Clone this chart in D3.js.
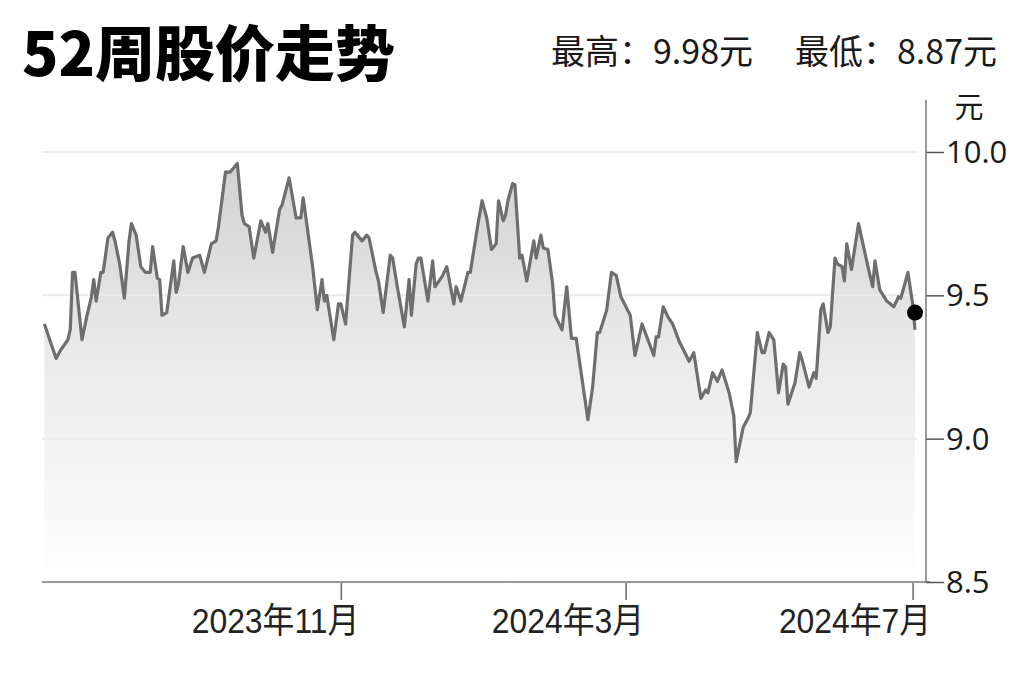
<!DOCTYPE html>
<html>
<head>
<meta charset="utf-8">
<script src="https://cdn.jsdelivr.net/npm/d3@7"></script>
<style>
  html, body { margin: 0; padding: 0; background: #ffffff; }
  svg { display: block; }
</style>
</head>
<body>
<svg id="chart" width="1024" height="682"></svg>
<script>
// ---- data ----
const titleText = "52周股价走势";
const highText = "最高：9.98元";
const lowText = "最低：8.87元";
const unitText = "元";
const lastClose = 9.44;

const dates = ["2023-06-28","2023-07-03","2023-07-05","2023-07-08","2023-07-09","2023-07-10","2023-07-11","2023-07-14","2023-07-16","2023-07-18","2023-07-19","2023-07-20","2023-07-22","2023-07-23","2023-07-25","2023-07-27","2023-07-28","2023-07-30","2023-08-01","2023-08-03","2023-08-04","2023-08-06","2023-08-08","2023-08-10","2023-08-12","2023-08-13","2023-08-15","2023-08-16","2023-08-17","2023-08-19","2023-08-22","2023-08-23","2023-08-24","2023-08-26","2023-08-28","2023-08-30","2023-09-02","2023-09-04","2023-09-07","2023-09-09","2023-09-10","2023-09-13","2023-09-15","2023-09-18","2023-09-20","2023-09-21","2023-09-23","2023-09-25","2023-09-28","2023-09-30","2023-10-01","2023-10-03","2023-10-06","2023-10-07","2023-10-10","2023-10-13","2023-10-15","2023-10-16","2023-10-18","2023-10-20","2023-10-22","2023-10-24","2023-10-25","2023-10-26","2023-10-29","2023-10-31","2023-11-01","2023-11-03","2023-11-06","2023-11-07","2023-11-10","2023-11-12","2023-11-13","2023-11-16","2023-11-17","2023-11-19","2023-11-22","2023-11-23","2023-11-25","2023-11-28","2023-11-30","2023-12-01","2023-12-03","2023-12-04","2023-12-05","2023-12-08","2023-12-10","2023-12-11","2023-12-14","2023-12-16","2023-12-19","2023-12-20","2023-12-22","2023-12-25","2023-12-26","2023-12-29","2023-12-31","2024-01-02","2024-01-04","2024-01-06","2024-01-07","2024-01-09","2024-01-10","2024-01-11","2024-01-13","2024-01-14","2024-01-16","2024-01-17","2024-01-19","2024-01-22","2024-01-23","2024-01-25","2024-01-26","2024-01-28","2024-01-30","2024-01-31","2024-02-03","2024-02-05","2024-02-07","2024-02-09","2024-02-14","2024-02-16","2024-02-18","2024-02-19","2024-02-22","2024-02-24","2024-02-26","2024-02-28","2024-03-03","2024-03-05","2024-03-08","2024-03-13","2024-03-14","2024-03-15","2024-03-17","2024-03-19","2024-03-21","2024-03-24","2024-03-25","2024-03-28","2024-03-30","2024-04-02","2024-04-04","2024-04-05","2024-04-07","2024-04-09","2024-04-11","2024-04-14","2024-04-16","2024-04-17","2024-04-20","2024-04-22","2024-04-23","2024-04-26","2024-04-28","2024-04-29","2024-05-01","2024-05-03","2024-05-05","2024-05-07","2024-05-08","2024-05-09","2024-05-12","2024-05-14","2024-05-15","2024-05-18","2024-05-20","2024-05-21","2024-05-23","2024-05-24","2024-05-26","2024-05-27","2024-05-29","2024-05-30","2024-06-01","2024-06-02","2024-06-03","2024-06-05","2024-06-08","2024-06-12","2024-06-14","2024-06-15","2024-06-17","2024-06-20","2024-06-23","2024-06-25","2024-06-26","2024-06-29","2024-07-01","2024-07-02"];

const prices = [9.40,9.28,9.31,9.345,9.38,9.58,9.58,9.345,9.425,9.495,9.555,9.48,9.58,9.58,9.70,9.72,9.69,9.61,9.49,9.69,9.75,9.71,9.60,9.58,9.58,9.67,
9.56,9.555,9.43,9.44,9.62,9.51,9.54,9.67,9.58,9.63,9.64,9.58,9.68,9.69,9.74,9.93,9.93,9.96,9.78,9.75,9.74,9.63,9.76,9.72,9.75,9.65,
9.80,9.815,9.91,9.77,9.77,9.84,9.72,9.60,9.45,9.555,9.48,9.50,9.345,9.47,9.47,9.40,9.71,9.72,9.69,9.71,9.70,9.58,9.55,9.44,9.64,9.63,
9.53,9.39,9.555,9.43,9.61,9.63,9.63,9.48,9.62,9.53,9.565,9.60,9.47,9.53,9.48,9.58,9.58,9.735,9.83,9.77,9.66,9.68,9.83,9.76,9.78,9.83,
9.89,9.885,9.63,9.64,9.55,9.69,9.63,9.71,9.665,9.66,9.54,9.43,9.38,9.53,9.35,9.35,9.066,9.18,9.37,9.37,9.45,9.58,9.57,9.495,9.43,9.29,
9.40,9.29,9.355,9.355,9.46,9.425,9.40,9.335,9.32,9.27,9.30,9.14,9.17,9.16,9.23,9.20,9.24,9.16,9.08,8.92,9.04,9.07,9.09,9.37,9.30,9.30,
9.37,9.345,9.16,9.26,9.25,9.12,9.195,9.30,9.275,9.18,9.23,9.21,9.45,9.47,9.37,9.39,9.63,9.61,9.60,9.55,9.68,9.59,9.75,9.60,9.53,9.62,
9.52,9.48,9.46,9.495,9.49,9.58,9.47,9.38];

const xDomain = ["2023-06-27", "2024-07-02"];
const xTickDates = ["2023-11-01", "2024-03-01", "2024-07-01"];
const yDomain = [8.5, 10.0];
const yTickValues = [8.5, 9.0, 9.5, 10.0];
const gridValues = [9.0, 9.5, 10.0];

// ---- drawing ----
const parse = d3.timeParse("%Y-%m-%d");
const n = Math.min(dates.length, prices.length);
const data = d3.range(n).map(i => ({ date: parse(dates[i]), v: prices[i] }));

const svg = d3.select("#chart");
const plotLeft = 42, plotRight = 915, axisX = 926;
const plotTop = 152, plotBottom = 582;

const x = d3.scaleTime().domain(xDomain.map(parse)).range([plotLeft, plotRight]);
const y = d3.scaleLinear().domain(yDomain).range([plotBottom, plotTop]);

const defs = svg.append("defs");
const grad = defs.append("linearGradient")
  .attr("id", "areaGrad")
  .attr("gradientUnits", "userSpaceOnUse")
  .attr("x1", 0).attr("x2", 0)
  .attr("y1", y(10.0)).attr("y2", y(8.5));
grad.append("stop").attr("offset", "0%").attr("stop-color", "#d0d0d0");
grad.append("stop").attr("offset", "45%").attr("stop-color", "#e9e9e9");
grad.append("stop").attr("offset", "100%").attr("stop-color", "#ffffff");

// area
svg.append("path")
  .datum(data)
  .attr("fill", "url(#areaGrad)")
  .attr("d", d3.area()
    .x(d => x(d.date))
    .y0(y(yDomain[0]))
    .y1(d => y(d.v)));

// gridlines
svg.append("g").selectAll("line")
  .data(gridValues)
  .join("line")
  .attr("x1", plotLeft).attr("x2", plotRight + 2)
  .attr("y1", d => y(d)).attr("y2", d => y(d))
  .attr("stroke", "#ebebeb")
  .attr("stroke-width", 2);

// line
svg.append("path")
  .datum(data)
  .attr("fill", "none")
  .attr("stroke", "#6e6e6e")
  .attr("stroke-width", 3.2)
  .attr("stroke-linejoin", "round")
  .attr("d", d3.line().x(d => x(d.date)).y(d => y(d.v)));

// last close dot
svg.append("circle")
  .attr("cx", x(data[n - 1].date))
  .attr("cy", y(lastClose))
  .attr("r", 8)
  .attr("fill", "#000");

// x axis
const xAxis = svg.append("g")
  .attr("transform", `translate(0,${plotBottom})`)
  .call(d3.axisBottom(x)
    .tickValues(xTickDates.map(parse))
    .tickFormat(d3.timeFormat("%Y年%-m月"))
    .tickSize(18)
    .tickSizeOuter(0));
xAxis.select(".domain").remove();
xAxis.selectAll(".tick line").attr("stroke", "#666").attr("stroke-width", 1.5);
xAxis.selectAll(".tick text")
  .attr("fill", "#222")
  .attr("font-family", "'Liberation Sans', 'Noto Sans CJK SC', sans-serif")
  .attr("font-size", 35)
  .attr("text-anchor", "end")
  .attr("dx", 18)
  .attr("y", 26)
  .attr("dy", "0.71em")
  .each(function () {
    const w = this.getComputedTextLength();
    d3.select(this).attr("textLength", w * 0.91).attr("lengthAdjust", "spacingAndGlyphs");
  });
svg.append("line")
  .attr("x1", plotLeft).attr("x2", axisX + 4)
  .attr("y1", plotBottom).attr("y2", plotBottom)
  .attr("stroke", "#9a9a9a").attr("stroke-width", 2);

// y axis
const yAxis = svg.append("g")
  .attr("transform", `translate(${axisX},0)`)
  .call(d3.axisRight(y)
    .tickValues(yTickValues)
    .tickFormat(d3.format(".1f"))
    .tickSize(18)
    .tickSizeOuter(0));
yAxis.select(".domain").remove();
yAxis.selectAll(".tick line").attr("stroke", "#555").attr("stroke-width", 1.5);
yAxis.selectAll(".tick text")
  .attr("fill", "#1a1a1a")
  .attr("font-family", "'Open Sans', 'Noto Sans', sans-serif")
  .attr("font-size", 31)
  .attr("x", 20)
  .attr("dy", "0.34em");
svg.append("line")
  .attr("x1", axisX).attr("x2", axisX)
  .attr("y1", 100).attr("y2", plotBottom)
  .attr("stroke", "#777").attr("stroke-width", 1.5);

// unit
svg.append("text")
  .attr("x", 969).attr("y", 118)
  .attr("text-anchor", "middle")
  .attr("font-family", "'Noto Sans CJK SC', sans-serif")
  .attr("font-size", 29)
  .attr("fill", "#1a1a1a")
  .text(unitText);

// title
svg.append("text")
  .attr("x", 22).attr("y", 76)
  .attr("font-family", "'Noto Sans CJK SC', sans-serif")
  .attr("font-weight", 900)
  .attr("font-size", 60)
  .attr("fill", "#000")
  .text(titleText);

// high / low
svg.append("text")
  .attr("x", 551).attr("y", 64)
  .attr("font-family", "'Noto Sans CJK SC', sans-serif")
  .attr("font-size", 34)
  .attr("fill", "#1a1a1a")
  .text(highText);
svg.append("text")
  .attr("x", 997).attr("y", 64)
  .attr("text-anchor", "end")
  .attr("font-family", "'Noto Sans CJK SC', sans-serif")
  .attr("font-size", 34)
  .attr("fill", "#1a1a1a")
  .text(lowText);
</script>
</body>
</html>
